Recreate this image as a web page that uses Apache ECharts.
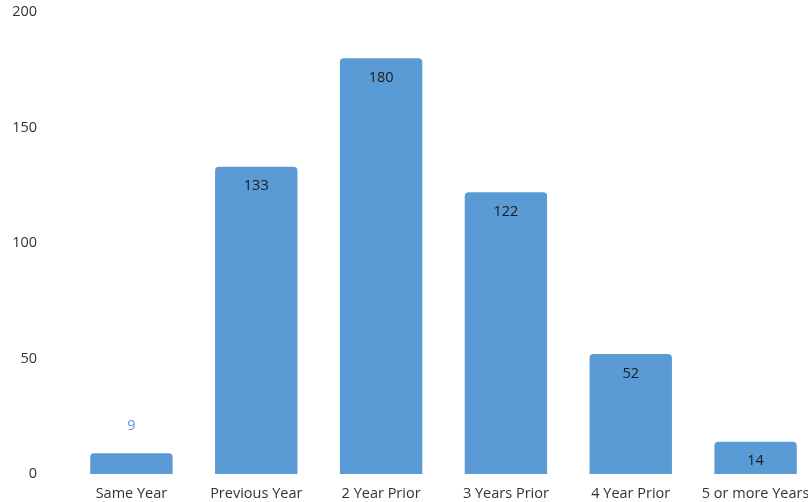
<!DOCTYPE html>
<html><head><meta charset="utf-8">
<script src="https://cdn.jsdelivr.net/npm/echarts@6/dist/echarts.min.js"></script>
<style>html,body{margin:0;padding:0;background:#fff}#c{width:808px;height:502px}</style>
</head><body><div id="c"></div>
<script>
var categories = ['Same Year','Previous Year','2 Year Prior','3 Years Prior','4 Year Prior','5 or more Years'];
var values = [9,133,180,122,52,14];
var yTicks = [0,50,100,150,200];
var chart = echarts.init(document.getElementById('c'));
var font = '"Open Sans", "Noto Sans", sans-serif';
chart.setOption({
  animation:false,
  grid:{left:69,width:749,top:12,bottom:28,containLabel:false,outerBoundsMode:'none'},
  xAxis:{type:'category',data:categories,
    axisLine:{show:false},axisTick:{show:false},
    axisLabel:{color:'#333',fontSize:14.5,fontFamily:font,margin:12,interval:0,hideOverlap:false}},
  yAxis:{type:'value',min:yTicks[0],max:yTicks[yTicks.length-1],interval:50,
    splitLine:{show:false},axisLine:{show:false},axisTick:{show:false},
    axisLabel:{color:'#333',fontSize:14.5,fontFamily:font,margin:32}},
  series:[{type:'bar',barCategoryGap:'34%',
    data:values.map(function(v){
      if(v<10){return {value:v,label:{position:'top',color:'#5b9bd5',distance:20}};}
      return {value:v};
    }),
    itemStyle:{color:'#5b9bd5',borderRadius:[4,4,0,0]},
    label:{show:true,position:'insideTop',distance:12,color:'#1a1a1a',fontSize:14.5,fontFamily:font}
  }]
});
</script></body></html>
